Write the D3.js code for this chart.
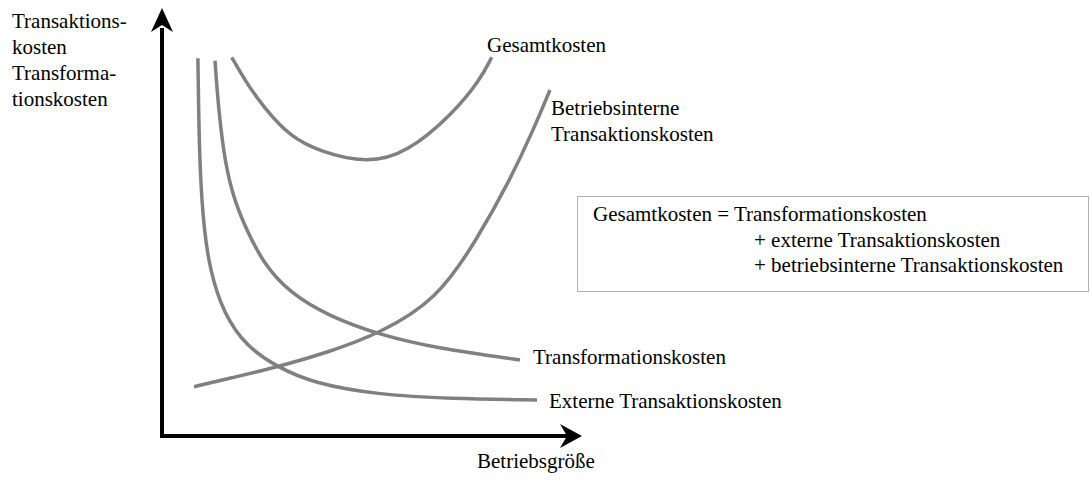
<!DOCTYPE html>
<html>
<head>
<meta charset="utf-8">
<script src="https://cdn.jsdelivr.net/npm/d3@7"></script>
<style>
  body { margin: 0; background: #fff; }
</style>
</head>
<body>
<svg id="chart"></svg>
<script>
// curve points (x = Betriebsgröße, y = Kosten, both 0..100)
const externeKosten = [
  [8.55, 88.25], [8.7, 76.9], [9.05, 61.45], [10.0, 48.1], [11.43, 38.8], [14.6, 28.67],
  [20.17, 20.86], [27.31, 16.19], [36.02, 12.31], [51.9, 9.58], [68.57, 8.76], [89.29, 8.41]
];
const transformationsKosten = [
  [12.62, 87.69], [13.4, 76.94], [15.0, 63.5], [17.38, 54.6], [20.17, 48.13], [24.12, 40.35],
  [30.48, 33.34], [40.0, 27.87], [51.9, 23.6], [65.4, 20.49], [85.24, 17.76]
];
const gesamtKosten = [
  [16.6, 88.48], [20.17, 82.41], [24.12, 76.94], [30.48, 69.93], [37.62, 66.43],
  [48.74, 63.7], [58.26, 66.05], [69.36, 75.4], [75.71, 83.18], [78.5, 88.48]
];
const interneKosten = [
  [7.62, 11.52], [16.19, 13.5], [27.31, 16.05], [40.0, 19.7], [51.9, 24.0],
  [65.4, 31.78], [74.93, 45.79], [82.86, 59.81], [88.4, 71.5], [92.38, 80.84]
];
const yLabelLines = ["Transaktions-", "kosten", "Transforma-", "tionskosten"];
const formulaLines = ["Gesamtkosten = Transformationskosten", "+ externe Transaktionskosten", "+ betriebsinterne Transaktionskosten"];

const width = 1091, height = 482;
const font = "'Liberation Serif', 'Times New Roman', Times, serif";

const svg = d3.select("#chart").attr("width", width).attr("height", height)
    .attr("font-family", font)
    .attr("font-size", 21);

const x = d3.scaleLinear().domain([0, 100]).range([162, 582]);
const y = d3.scaleLinear().domain([0, 100]).range([436, 8]);

const line = d3.line()
    .x(d => x(d[0]))
    .y(d => y(d[1]))
    .curve(d3.curveBasis);

// curves
[externeKosten, transformationsKosten, gesamtKosten, interneKosten].forEach(pts => {
  svg.append("path")
      .attr("d", line(pts))
      .attr("fill", "none")
      .attr("stroke", "#808080")
      .attr("stroke-width", 3.5);
});

// axes with arrows
svg.append("path")
    .attr("d", `M${x(0)},${y(0) + 2}V${y(100) + 20}M${x(0) - 2},${y(0)}H${x(100) - 12}`)
    .attr("stroke", "#000")
    .attr("stroke-width", 4)
    .attr("fill", "none");

svg.append("path")
    .attr("d", `M${x(0)},${y(100)}L${x(0) + 11},${y(100) + 24}L${x(0)},${y(100) + 17}L${x(0) - 11},${y(100) + 24}Z`)
    .attr("fill", "#000");

svg.append("path")
    .attr("d", `M${x(100)},${y(0)}L${x(100) - 22},${y(0) + 12}L${x(100) - 15},${y(0)}L${x(100) - 22},${y(0) - 12}Z`)
    .attr("fill", "#000");

// y label
svg.append("text")
    .attr("x", 12)
    .attr("y", 28)
    .selectAll("tspan")
    .data(yLabelLines)
    .enter().append("tspan")
    .attr("x", 12)
    .attr("dy", (d, i) => i === 0 ? 0 : 26)
    .text(d => d);

// x label
svg.append("text")
    .attr("x", 477)
    .attr("y", 468)
    .text("Betriebsgröße");

// curve labels
svg.append("text").attr("x", 487).attr("y", 52).text("Gesamtkosten");
svg.append("text").attr("x", 551).attr("y", 115).text("Betriebsinterne");
svg.append("text").attr("x", 551).attr("y", 141).text("Transaktionskosten");
svg.append("text").attr("x", 533).attr("y", 364).text("Transformationskosten");
svg.append("text").attr("x", 549).attr("y", 408).text("Externe Transaktionskosten");

// formula box
svg.append("rect")
    .attr("x", 577.5)
    .attr("y", 196.5)
    .attr("width", 511)
    .attr("height", 95)
    .attr("fill", "#fff")
    .attr("stroke", "#b0b0b0")
    .attr("stroke-width", 1);

svg.selectAll(".formula")
    .data(formulaLines)
    .enter().append("text")
    .attr("class", "formula")
    .attr("x", (d, i) => i === 0 ? 593 : 754)
    .attr("y", (d, i) => 221 + i * 25.5)
    .text(d => d);
</script>
</body>
</html>
